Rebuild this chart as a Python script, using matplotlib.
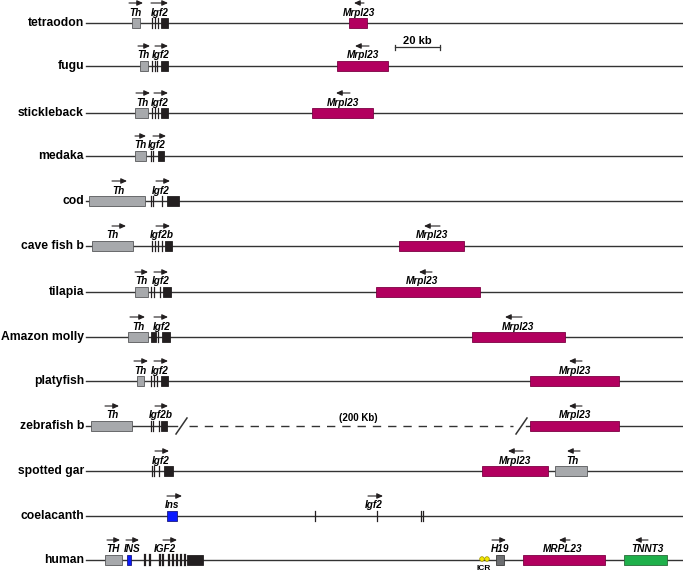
import matplotlib.pyplot as plt
from matplotlib.patches import Rectangle, Circle

plt.rcParams['font.family'] = ['Liberation Sans', 'DejaVu Sans']

# species rows, top to bottom, and the y (pixel) of each chromosome line
species = ['tetraodon', 'fugu', 'stickleback', 'medaka', 'cod', 'cave fish b',
           'tilapia', 'Amazon molly', 'platyfish', 'zebrafish b', 'spotted gar',
           'coelacanth', 'human']
row_y = [23, 66, 113, 156, 201, 246, 292, 337, 381, 426, 471, 516, 560]

colors = {'th': '#a7a9ac', 'igf2': '#231f20', 'mrpl23': '#b2005f',
          'ins': '#0a1aff', 'h19': '#6d6e71', 'tnnt3': '#1fb04b'}
edges = {'th': '#58595b', 'igf2': '#231f20', 'mrpl23': '#7d0043',
         'ins': '#1a1a80', 'h19': '#3a3a3a', 'tnnt3': '#2a6b3a'}

# gene boxes: (row, start, end, kind)
boxes = [
    (0, 132, 140, 'th'), (0, 161, 168, 'igf2'), (0, 349, 367, 'mrpl23'),
    (1, 140, 148, 'th'), (1, 161, 168, 'igf2'), (1, 337, 388, 'mrpl23'),
    (2, 135, 148, 'th'), (2, 161, 168, 'igf2'), (2, 312, 373, 'mrpl23'),
    (3, 135, 146, 'th'), (3, 158, 164, 'igf2'),
    (4, 89, 145, 'th'), (4, 167, 179, 'igf2'),
    (5, 92, 133, 'th'), (5, 165, 172, 'igf2'), (5, 399, 464, 'mrpl23'),
    (6, 135, 148, 'th'), (6, 163, 171, 'igf2'), (6, 376, 480, 'mrpl23'),
    (7, 128, 148, 'th'), (7, 151, 156, 'igf2'), (7, 162, 170, 'igf2'), (7, 472, 565, 'mrpl23'),
    (8, 137, 144, 'th'), (8, 161, 168, 'igf2'), (8, 530, 619, 'mrpl23'),
    (9, 91, 132, 'th'), (9, 161, 167, 'igf2'), (9, 530, 619, 'mrpl23'),
    (10, 164, 173, 'igf2'), (10, 482, 548, 'mrpl23'), (10, 555, 587, 'th'),
    (11, 167, 177, 'ins'),
    (12, 105, 122, 'th'), (12, 127, 131, 'ins'), (12, 187, 203, 'igf2'),
    (12, 496, 504, 'h19'), (12, 523, 605, 'mrpl23'), (12, 624, 667, 'tnnt3'),
]

# exon ticks: (row, x)
exons = [
    (0, 152), (0, 155), (0, 158),
    (1, 152), (1, 155), (1, 157),
    (2, 152), (2, 155), (2, 158),
    (3, 151), (3, 153),
    (4, 151), (4, 153), (4, 162),
    (5, 152), (5, 155), (5, 158), (5, 162),
    (6, 151), (6, 154), (6, 160),
    (7, 158),
    (8, 151), (8, 154), (8, 157),
    (9, 151), (9, 153), (9, 159),
    (10, 152), (10, 154), (10, 159),
    (11, 315), (11, 377), (11, 421), (11, 423),
]
human_exons = [145, 150, 160, 163, 169, 173, 177, 181, 185]

# gene names: (row, x, text)
gene_labels = [
    (0, 135, 'Th'), (0, 160, 'Igf2'), (0, 359, 'Mrpl23'),
    (1, 143, 'Th'), (1, 161, 'Igf2'), (1, 363, 'Mrpl23'),
    (2, 142, 'Th'), (2, 160, 'Igf2'), (2, 343, 'Mrpl23'),
    (3, 140, 'Th'), (3, 157, 'Igf2'),
    (4, 118, 'Th'), (4, 161, 'Igf2'),
    (5, 112, 'Th'), (5, 162, 'Igf2b'), (5, 432, 'Mrpl23'),
    (6, 141, 'Th'), (6, 161, 'Igf2'), (6, 422, 'Mrpl23'),
    (7, 138, 'Th'), (7, 162, 'Igf2'), (7, 518, 'Mrpl23'),
    (8, 140, 'Th'), (8, 160, 'Igf2'), (8, 575, 'Mrpl23'),
    (9, 112, 'Th'), (9, 161, 'Igf2b'), (9, 575, 'Mrpl23'),
    (10, 161, 'Igf2'), (10, 515, 'Mrpl23'), (10, 572, 'Th'),
    (11, 172, 'Ins'), (11, 374, 'Igf2'),
    (12, 113, 'TH'), (12, 132, 'INS'), (12, 165, 'IGF2'),
    (12, 500, 'H19'), (12, 563, 'MRPL23'), (12, 647, 'TNNT3'),
]

# transcription direction: (row, x_from, x_to)
arrows = [
    (0, 129, 143), (0, 151, 168), (0, 364, 354),
    (1, 138, 150), (1, 155, 168), (1, 369, 355),
    (2, 136, 150), (2, 154, 168), (2, 350, 336),
    (3, 135, 146), (3, 153, 166),
    (4, 112, 127), (4, 156, 170),
    (5, 112, 126), (5, 156, 170), (5, 440, 424),
    (6, 135, 148), (6, 154, 168), (6, 432, 419),
    (7, 130, 145), (7, 154, 168), (7, 522, 505),
    (8, 134, 148), (8, 154, 168), (8, 582, 569),
    (9, 105, 119), (9, 155, 168), (9, 582, 569),
    (10, 155, 169), (10, 523, 508), (10, 580, 567),
    (11, 167, 182), (11, 368, 383),
    (12, 107, 120), (12, 126, 139), (12, 163, 177),
    (12, 492, 506), (12, 570, 559), (12, 648, 635),
]

icr_x = [482, 487]
line_color = '#333333'

fig = plt.figure(figsize=(6.83, 5.72), dpi=100)
ax = fig.add_axes([0, 0, 1, 1])
ax.set_xlim(0, 683)
ax.set_ylim(572, 0)
ax.axis('off')

# chromosome lines + species names
for i, (name, y) in enumerate(zip(species, row_y)):
    ax.text(84, y, name, ha='right', va='center', fontsize=8.7, fontweight='bold')
    if name == 'zebrafish b':
        ax.plot([86, 177], [y, y], color=line_color, lw=1.0, zorder=1)
        ax.plot([189, 513], [y, y], color=line_color, lw=1.0, ls=(0, (6, 5)), zorder=1)
        ax.plot([526, 683], [y, y], color=line_color, lw=1.0, zorder=1)
        ax.plot([176, 187], [y + 8, y - 8], color=line_color, lw=1.1)
        ax.plot([516, 527], [y + 8, y - 8], color=line_color, lw=1.1)
        ax.text(358, y - 8, '(200 Kb)', ha='center', va='center', fontsize=7, fontweight='bold')
    else:
        ax.plot([86, 683], [y, y], color=line_color, lw=1.0, zorder=1)

for r, x in exons:
    y = row_y[r]
    ax.plot([x, x], [y - 5, y + 5], color='#231f20', lw=0.9, zorder=2)
for x in human_exons:
    y = row_y[12]
    ax.plot([x, x], [y - 5, y + 5], color='#231f20', lw=1.6, zorder=2)

for r, x0, x1, kind in boxes:
    y = row_y[r]
    ax.add_patch(Rectangle((x0, y - 5), x1 - x0, 10, facecolor=colors[kind],
                           edgecolor=edges[kind], lw=0.6, zorder=3))

for r, x, txt in gene_labels:
    ax.text(x, row_y[r] - 10.5, txt, ha='center', va='center', fontsize=7.2,
            fontweight='bold', fontstyle='italic')

for r, x0, x1 in arrows:
    ya = row_y[r] - 20
    ax.annotate('', xy=(x1, ya), xytext=(x0, ya),
                arrowprops=dict(arrowstyle='-|>,head_length=0.35,head_width=0.16',
                                color='#231f20', lw=0.8, shrinkA=0, shrinkB=0))

# imprinting control region in human
for x in icr_x:
    ax.add_patch(Circle((x, row_y[12] - 1), 2.3, facecolor='#f2e600',
                        edgecolor='#9a8f00', lw=0.5, zorder=4))
ax.text(484, row_y[12] + 9, 'ICR', ha='center', va='center', fontsize=6, fontweight='bold')

# scale bar
sy = 47
ax.plot([395, 440], [sy, sy], color=line_color, lw=0.9)
ax.plot([395, 395], [sy - 2.5, sy + 2.5], color=line_color, lw=0.9)
ax.plot([440, 440], [sy - 2.5, sy + 2.5], color=line_color, lw=0.9)
ax.text(417, sy - 6, '20 kb', ha='center', va='center', fontsize=8, fontweight='bold')

fig.savefig('out.png', dpi=100)
